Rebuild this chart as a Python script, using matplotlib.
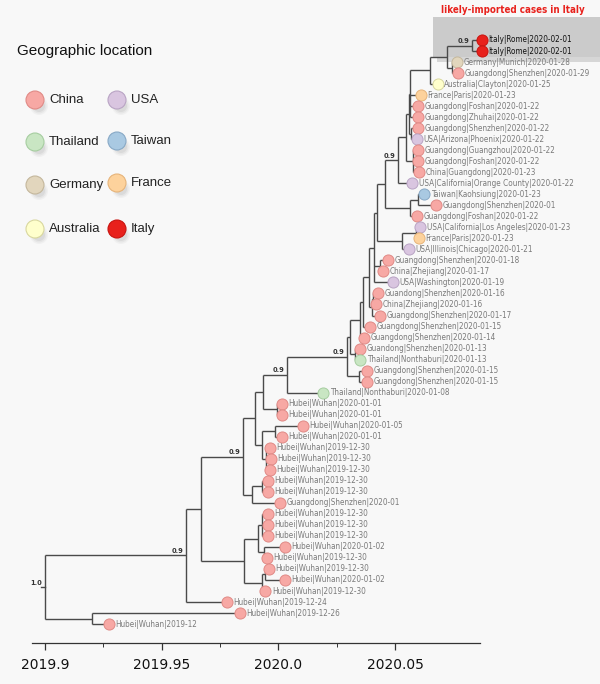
import matplotlib
matplotlib.use("Agg")
import matplotlib.pyplot as plt
from matplotlib.patches import Rectangle, Circle

# ---- tips (top -> bottom) ----
tip_labels = [
    "Italy|Rome|2020-02-01", "Italy|Rome|2020-02-01", "Germany|Munich|2020-01-28",
    "Guangdong|Shenzhen|2020-01-29", "Australia|Clayton|2020-01-25", "France|Paris|2020-01-23",
    "Guangdong|Foshan|2020-01-22", "Guangdong|Zhuhai|2020-01-22", "Guangdong|Shenzhen|2020-01-22",
    "USA|Arizona|Phoenix|2020-01-22", "Guangdong|Guangzhou|2020-01-22", "Guangdong|Foshan|2020-01-22",
    "China|Guangdong|2020-01-23", "USA|California|Orange County|2020-01-22",
    "Taiwan|Kaohsiung|2020-01-23", "Guangdong|Shenzhen|2020-01", "Guangdong|Foshan|2020-01-22",
    "USA|California|Los Angeles|2020-01-23", "France|Paris|2020-01-23", "USA|Illinois|Chicago|2020-01-21",
    "Guangdong|Shenzhen|2020-01-18", "China|Zhejiang|2020-01-17", "USA|Washington|2020-01-19",
    "Guandong|Shenzhen|2020-01-16", "China|Zhejiang|2020-01-16", "Guangdong|Shenzhen|2020-01-17",
    "Guangdong|Shenzhen|2020-01-15", "Guangdong|Shenzhen|2020-01-14", "Guandong|Shenzhen|2020-01-13",
    "Thailand|Nonthaburi|2020-01-13", "Guangdong|Shenzhen|2020-01-15", "Guangdong|Shenzhen|2020-01-15",
    "Thailand|Nonthaburi|2020-01-08", "Hubei|Wuhan|2020-01-01", "Hubei|Wuhan|2020-01-01",
    "Hubei|Wuhan|2020-01-05", "Hubei|Wuhan|2020-01-01", "Hubei|Wuhan|2019-12-30",
    "Hubei|Wuhan|2019-12-30", "Hubei|Wuhan|2019-12-30", "Hubei|Wuhan|2019-12-30",
    "Hubei|Wuhan|2019-12-30", "Guangdong|Shenzhen|2020-01", "Hubei|Wuhan|2019-12-30",
    "Hubei|Wuhan|2019-12-30", "Hubei|Wuhan|2019-12-30", "Hubei|Wuhan|2020-01-02",
    "Hubei|Wuhan|2019-12-30", "Hubei|Wuhan|2019-12-30", "Hubei|Wuhan|2020-01-02",
    "Hubei|Wuhan|2019-12-30", "Hubei|Wuhan|2019-12-24", "Hubei|Wuhan|2019-12-26",
    "Hubei|Wuhan|2019-12",
]
tip_years = [
    2020.0871, 2020.0871, 2020.0764, 2020.0770, 2020.0682, 2020.0610,
    2020.0598, 2020.0598, 2020.0598, 2020.0593, 2020.0598, 2020.0598,
    2020.0602, 2020.0572, 2020.0623, 2020.0674, 2020.0593, 2020.0606,
    2020.0602, 2020.0559, 2020.0469, 2020.0447, 2020.0490, 2020.0426,
    2020.0418, 2020.0435, 2020.0392, 2020.0366, 2020.0349, 2020.0349,
    2020.0379, 2020.0379, 2020.0191, 2020.0014, 2020.0014, 2020.0105,
    2020.0014, 2019.9964, 2019.9968, 2019.9964, 2019.9955, 2019.9955,
    2020.0007, 2019.9955, 2019.9955, 2019.9955, 2020.0028, 2019.9951,
    2019.9960, 2020.0028, 2019.9943, 2019.9780, 2019.9834, 2019.9274,
]
tip_region = (["Italy", "Italy", "Germany", "China", "Australia", "France"]
              + ["China"] * 3 + ["USA"] + ["China"] * 3 + ["USA", "Taiwan", "China", "China",
                 "USA", "France", "USA", "China", "China", "USA"]
              + ["China"] * 6 + ["Thailand", "China", "China", "Thailand"] + ["China"] * 21)

# ---- internal nodes: name, time (decimal year), children (tip index or node name) ----
node_names = ["IT", "GG", "X1", "X2", "X6", "P1", "X4", "X5", "X", "Y", "TW", "W", "Z",
              "LF", "LG", "V", "V3", "V2", "P2", "U2", "U1", "R1", "R2", "P", "N", "O",
              "M", "L", "PH", "K2", "A1", "A2", "K3", "K", "P3", "C2", "C", "G", "H",
              "F", "J", "I", "D", "B", "A", "E", "root"]
node_years = [2020.0829, 2020.0743, 2020.0722, 2020.0649, 2020.0563, 2020.0568, 2020.0559,
              2020.0576, 2020.0546, 2020.0512, 2020.0598, 2020.0563, 2020.0457,
              2020.0589, 2020.0529, 2020.0422, 2020.0435, 2020.0409, 2020.0405, 2020.0401,
              2020.0388, 2020.0362, 2020.0349, 2020.0328, 2020.0306, 2020.0345,
              2020.0294, 2020.0037, 2019.9994, 2019.9934, 2019.9986, 2019.9947, 2019.9930,
              2019.9900, 2019.9930, 2019.9887, 2019.9848, 2019.9930, 2019.9938,
              2019.9913, 2019.9943, 2019.9930, 2019.9853, 2019.9669, 2019.9604,
              2019.9202, 2019.9000]
node_children = [[0, 1], [2, 3], ["IT", "GG"], ["X1", 4], ["X2", 5, 6, 7], [8, 9],
                 ["X6", "P1"], [10, 11, 12], ["X4", "X5"], ["X", 13], [14, 15], ["TW", 16],
                 ["Y", "W"], [17, 18], ["LF", 19], ["Z", "LG"], [20, 21], ["V", "V3", 22],
                 [23, 24], ["P2", 25], ["V2", "U2"], ["U1", 26], ["R1", 27], [28, 29],
                 ["R2", "P"], [30, 31], ["N", "O"], ["M", 32], [33, 34], ["L", "PH"],
                 [35, 36], [37, 38, 39], ["A1", "A2"], ["K2", "K3"], [40, 41], ["P3", 42],
                 ["K", "C2"], [43, 44, 45], [46, 47], ["G", "H"], [48, 49], ["J", 50],
                 ["F", "I"], ["C", "D"], ["B", 51], [52, 53], ["A", "E"]]
support = {"IT": "0.9", "Y": "0.9", "M": "0.9", "L": "0.9", "C": "0.9", "A": "0.9", "root": "1.0"}

region_names = ["China", "USA", "Thailand", "Taiwan", "Germany", "France", "Australia", "Italy"]
region_colors = ["#f7a8a4", "#d9c5e0", "#c9e6c3", "#a9c9e2", "#e2d6bd", "#fdd29c", "#ffffcc", "#e8211c"]
region_edges = ["#e08a86", "#b9a4c4", "#a6cda0", "#88a9c6", "#c4b79c", "#e6b47a", "#d8d79e", "#c81410"]
col = dict(zip(region_names, region_colors))
edg = dict(zip(region_names, region_edges))

BG = "#f8f8f8"
LINE = "#4a4a4a"
NARROW = dict(family="DejaVu Sans", stretch="condensed")

fig = plt.figure(figsize=(6, 6.84), dpi=100, facecolor=BG)

# overlay in pixel coordinates (legend, highlight box)
ov = fig.add_axes([0, 0, 1, 1], zorder=0)
ov.set_xlim(0, 600); ov.set_ylim(684, 0); ov.axis("off")
ov.add_patch(Rectangle((437, 20), 170, 42, color="#b5b5b5", alpha=0.5, lw=0))
ov.add_patch(Rectangle((433, 17), 170, 40, color="#cbcbcb", lw=0))
ov.text(513, 10, "likely-imported cases in Italy", color="#e8211c", fontsize=7,
        fontweight="bold", ha="center", va="center", **NARROW)

ov.text(17, 51, "Geographic location", fontsize=11, ha="left", va="center",
        family=["Liberation Sans", "DejaVu Sans"], color="#111111")
leg_pos = {"China": (35, 100), "USA": (117, 100), "Thailand": (35, 142), "Taiwan": (117, 141),
           "Germany": (35, 185), "France": (117, 183), "Australia": (35, 229), "Italy": (117, 229)}
for r in region_names:
    cx, cy = leg_pos[r]
    for k, a in enumerate([0.05, 0.07, 0.09]):
        ov.add_patch(Circle((cx + 4, cy + 6), 9 - k * 1.5, color="#666666", alpha=a, lw=0))
    ov.add_patch(Circle((cx, cy), 9, facecolor=col[r], edgecolor=edg[r], lw=0.8))
    ov.text(cx + 14, cy, r, fontsize=9.5, ha="left", va="center",
            family=["Liberation Sans", "DejaVu Sans"], color="#222222")

# main tree axes; y is tip index
ax = fig.add_axes([32 / 600, 41 / 684, 447.5 / 600, 623 / 684], zorder=1)
ax.set_facecolor("none")
ax.set_xlim(2019.8945, 2020.0861)
ax.set_ylim((643 - 40) / 11.02, (20 - 40) / 11.02)

node_x = dict(zip(node_names, node_years))
kids = dict(zip(node_names, node_children))
node_y = {}

def ypos(c):
    if isinstance(c, int):
        return c
    if c not in node_y:
        ys = [ypos(k) for k in kids[c]]
        node_y[c] = (min(ys) + max(ys)) / 2
    return node_y[c]

def xpos(c):
    return tip_years[c] if isinstance(c, int) else node_x[c]

for n in node_names:
    ys = [ypos(k) for k in kids[n]]
    ax.plot([node_x[n], node_x[n]], [min(ys), max(ys)], color=LINE, lw=1.0,
            solid_capstyle="butt", clip_on=False)
    for k in kids[n]:
        ax.plot([node_x[n], xpos(k)], [ypos(k), ypos(k)], color=LINE, lw=1.0,
                solid_capstyle="butt", clip_on=False)
    if n in support:
        ax.annotate(support[n], (node_x[n], ypos(n)), xytext=(-2, 1), textcoords="offset points",
                    fontsize=4.8, ha="right", va="bottom", color="#333333", fontweight="bold")

# root stem
ax.plot([node_x["root"] - 0.0018, node_x["root"]], [ypos("root")] * 2, color=LINE, lw=1.0, clip_on=False)

for i, (lab, yr, reg) in enumerate(zip(tip_labels, tip_years, tip_region)):
    ax.plot(yr, i, "o", ms=8.0, mfc=col[reg], mec=edg[reg], mew=0.7, zorder=3, clip_on=False)
    ax.annotate(lab, (yr, i), xytext=(4.8, 0), textcoords="offset points", fontsize=5.9,
                ha="left", va="center", annotation_clip=False,
                color="#111111" if reg == "Italy" else "#7a7a7a", **NARROW)

for s in ["top", "right", "left"]:
    ax.spines[s].set_visible(False)
ax.spines["bottom"].set_color("#333333")
ax.spines["bottom"].set_linewidth(0.9)
ax.set_yticks([])
ax.set_xticks([2019.9, 2019.95, 2020.0, 2020.05])
ax.set_xticklabels(["2019.9", "2019.95", "2020.0", "2020.05"])
ax.set_xticks([2019.925, 2019.975, 2020.025], minor=True)
ax.tick_params(axis="x", which="major", length=5, width=0.9, color="#333333", labelsize=10,
               pad=6, labelcolor="#111111")
ax.tick_params(axis="x", which="minor", length=3, width=0.7, color="#333333")

fig.savefig("out.png", dpi=100, facecolor=BG)
